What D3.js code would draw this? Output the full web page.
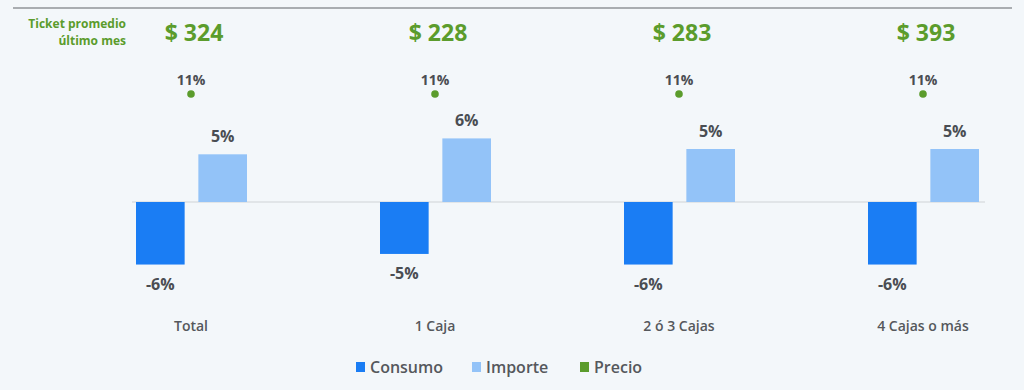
<!DOCTYPE html>
<html>
<head>
<meta charset="utf-8">
<script src="https://cdn.jsdelivr.net/npm/d3@7"></script>
<style>
  body { margin: 0; background: #f3f7fa; }
  svg { display: block; font-family: "Open Sans", sans-serif; }
</style>
</head>
<body>
<div id="chart"></div>
<script>
var categories = ['Total', '1 Caja', '2 ó 3 Cajas', '4 Cajas o más'];
var series = ['Consumo', 'Importe'];
var consumo = [-5.9, -4.9, -5.9, -5.9];
var importe = [4.5, 6.0, 5.0, 5.0];
var consumoLabels = ['-6%', '-5%', '-6%', '-6%'];
var importeLabels = ['5%', '6%', '5%', '5%'];
var precio = [11, 11, 11, 11];
var ticket = ['$ 324', '$ 228', '$ 283', '$ 393'];

var colors = { Consumo: '#1a7df4', Importe: '#93c3f8', Precio: '#5b9c2c' };

var svg = d3.select('#chart')
    .append('svg')
        .attr('width', 1024)
        .attr('height', 390)
        .style('background', '#f3f7fa');

// linea superior
svg.append('line')
    .attr('x1', 13).attr('x2', 1012)
    .attr('y1', 8).attr('y2', 8)
    .attr('stroke', '#a9adb1')
    .style('stroke-width', 2);

var x0 = d3.scaleBand().domain(categories).range([69, 1045]);
var x1 = d3.scaleBand().domain(series).range([67, 178]).paddingInner(0.22);
var y = d3.scaleLinear().domain([-6, 6]).range([265.6, 138.4]);
var yP = d3.scaleLinear().domain([0, 11]).range([y(0), 94]);

svg.append('text')
    .attr('x', 126).attr('y', 28)
    .attr('text-anchor', 'end')
    .attr('fill', colors.Precio)
    .style('font-size', '12px').style('font-weight', 700)
    .text('Ticket promedio');
svg.append('text')
    .attr('x', 126).attr('y', 45)
    .attr('text-anchor', 'end')
    .attr('fill', colors.Precio)
    .style('font-size', '12px').style('font-weight', 700)
    .text('último mes');

// eje cero
svg.append('line')
    .attr('x1', x0(categories[0]) + 63)
    .attr('x2', x0(categories[3]) + 184)
    .attr('y1', y(0)).attr('y2', y(0))
    .attr('stroke', '#cfd3d6')
    .style('stroke-width', 1);

var g = svg.selectAll('g.grp')
    .data(categories)
    .enter().append('g')
        .attr('class', 'grp')
        .attr('transform', function(d) { return 'translate(' + x0(d) + ',0)'; });

g.append('text')
    .attr('x', x0.bandwidth() / 2 + 3)
    .attr('y', 41)
    .attr('text-anchor', 'middle')
    .attr('fill', colors.Precio)
    .style('font-size', '23px').style('font-weight', 700)
    .text(function(d, i) { return ticket[i]; });

g.append('rect')
    .attr('x', x1('Consumo'))
    .attr('y', y(0))
    .attr('width', x1.bandwidth())
    .attr('height', function(d, i) { return y(consumo[i]) - y(0); })
    .style('fill', colors.Consumo);

g.append('rect')
    .attr('x', x1('Importe'))
    .attr('y', function(d, i) { return y(importe[i]); })
    .attr('width', x1.bandwidth())
    .attr('height', function(d, i) { return y(0) - y(importe[i]); })
    .style('fill', colors.Importe);

g.append('text')
    .attr('x', x1('Consumo') + x1.bandwidth() / 2)
    .attr('y', function(d, i) { return y(consumo[i]) + 25; })
    .attr('text-anchor', 'middle')
    .attr('fill', '#4a4d52')
    .style('font-size', '16px').style('font-weight', 700)
    .text(function(d, i) { return consumoLabels[i]; });

g.append('text')
    .attr('x', x1('Importe') + x1.bandwidth() / 2)
    .attr('y', function(d, i) { return y(importe[i]) - 12; })
    .attr('text-anchor', 'middle')
    .attr('fill', '#4a4d52')
    .style('font-size', '16px').style('font-weight', 700)
    .text(function(d, i) { return importeLabels[i]; });

g.append('circle')
    .attr('cx', x0.bandwidth() / 2)
    .attr('cy', function(d, i) { return yP(precio[i]); })
    .attr('r', 3.8)
    .style('fill', colors.Precio);

g.append('text')
    .attr('x', x0.bandwidth() / 2)
    .attr('y', function(d, i) { return yP(precio[i]) - 9; })
    .attr('text-anchor', 'middle')
    .attr('fill', '#4a4d52')
    .style('font-size', '14px').style('font-weight', 700)
    .text(function(d, i) { return precio[i] + '%'; });

g.append('text')
    .attr('x', x0.bandwidth() / 2)
    .attr('y', 331)
    .attr('text-anchor', 'middle')
    .attr('fill', '#55585c')
    .style('font-size', '14px').style('font-weight', 600)
    .text(function(d) { return d; });

// leyenda
var legendItems = ['Consumo', 'Importe', 'Precio'];
var legendX = [356, 472, 580];
var lg = svg.selectAll('g.leg')
    .data(legendItems)
    .enter().append('g')
        .attr('class', 'leg')
        .attr('transform', function(d, i) { return 'translate(' + legendX[i] + ',362)'; });

lg.append('rect')
    .attr('width', 9).attr('height', 10)
    .style('fill', function(d) { return colors[d]; });

lg.append('text')
    .attr('x', 14).attr('y', 11)
    .attr('fill', '#55585c')
    .style('font-size', '16px').style('font-weight', 600)
    .text(function(d) { return d; });
</script>
</body>
</html>
